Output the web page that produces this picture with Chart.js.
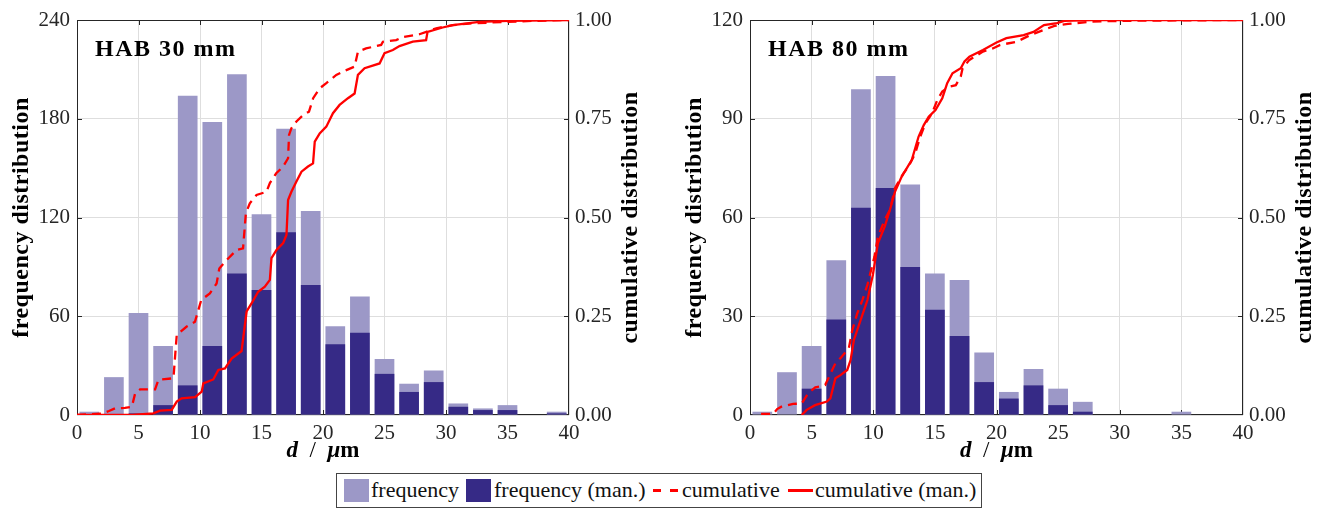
<!DOCTYPE html>
<html><head><meta charset="utf-8">
<script src="https://cdn.jsdelivr.net/npm/chart.js@4.4.1/dist/chart.umd.min.js"></script>
<style>
html,body{margin:0;padding:0;background:#fff;}
#wrap{position:relative;width:1320px;height:510px;overflow:hidden;background:#fff;}
#wrap canvas{position:absolute;top:0;}
#legend{position:absolute;left:336px;top:473px;width:646px;height:35px;border:1px solid #444;box-sizing:border-box;font:22px "Liberation Serif",serif;color:#111;background:#fff;}
#legend .sw{position:absolute;top:5px;width:25px;height:23px;}
#legend .tx{position:absolute;top:1px;line-height:30px;white-space:nowrap;}
#legend .ln{position:absolute;top:15px;height:3px;background:#ff0000;}
</style></head>
<body>
<div id="wrap">
  <canvas id="c30" width="660" height="470" style="left:0;width:660px;height:470px"></canvas>
  <canvas id="c80" width="660" height="470" style="left:660px;width:660px;height:470px"></canvas>
  <div id="legend">
    <div class="sw" style="left:7px;background:#9c98c7"></div><div class="tx" style="left:34px">frequency</div>
    <div class="sw" style="left:129px;background:#362a86"></div><div class="tx" style="left:157px">frequency (man.)</div>
    <div class="ln" style="left:316px;width:8px"></div><div class="ln" style="left:333px;width:8px"></div><div class="tx" style="left:345px">cumulative</div>
    <div class="ln" style="left:451px;width:25px"></div><div class="tx" style="left:478px">cumulative (man.)</div>
  </div>
</div>
<script>
// ---- data ----
const binCenters = [1,3,5,7,9,11,13,15,17,19,21,23,25,27,29,31,33,35,37,39];
const xTicks = [0,5,10,15,20,25,30,35,40];
const yTicks30 = [0,60,120,180,240];
const yTicks80 = [0,30,60,90,120];
const cumTicks = [0,0.25,0.5,0.75,1];

const freq30    = [2,23,62,42,194,178,207,122,174,124,54,72,34,19,27,7,4,6,0,2];
const freqMan30 = [0,0,1,6,18,42,86,76,111,79,43,50,25,14,20,5,3,3,0,1];
const freq80    = [1,13,21,47,99,103,70,43,41,19,7,14,8,4,0,0,0,1,0,0];
const freqMan80 = [0,0,8,29,63,69,45,32,24,10,5,9,3,1,0,0,0,0,0,0];

const cum30X = [0,2.1,2.6,3.1,3.9,4.46,4.73,5.13,6.35,6.62,7.84,8.11,8.92,9.59,10.1,10.8,11.35,11.57,12.16,12.98,13.5,13.73,14.05,14.6,15.4,15.68,16.2,16.76,17.16,17.24,17.43,17.84,18.38,18.86,19.2,19.73,20.27,21.08,21.9,22.57,22.84,23.5,24.73,24.87,25.95,26.5,27.84,28.4,29.2,30.55,31.9,34.6,37.3,40];
const cum30Y = [0,0.004,0.01,0.017,0.018,0.021,0.055,0.065,0.065,0.089,0.093,0.203,0.224,0.236,0.291,0.308,0.333,0.371,0.392,0.418,0.422,0.511,0.536,0.557,0.565,0.587,0.612,0.629,0.65,0.709,0.726,0.743,0.759,0.768,0.802,0.827,0.84,0.861,0.873,0.882,0.92,0.928,0.937,0.945,0.949,0.957,0.964,0.97,0.979,0.987,0.991,0.995,0.998,1];
const cumMan30X = [0,4.5,6.2,6.76,7.7,8.11,8.5,9.6,10.14,10.27,11.08,11.49,12.03,12.57,13.38,13.79,14.2,14.73,15.27,15.68,15.81,16.22,16.76,17.03,17.16,17.43,17.84,18.25,18.78,19.19,19.33,19.73,20.27,20.81,21.35,22.03,22.57,22.84,23.38,24.6,25.0,25.68,26.22,27.3,28.38,28.5,29.73,30.55,32.7,35.1,40];
const cumMan30Y = [0,0,0.004,0.011,0.013,0.034,0.042,0.045,0.059,0.08,0.09,0.114,0.118,0.143,0.162,0.262,0.283,0.312,0.325,0.342,0.397,0.418,0.435,0.456,0.544,0.565,0.591,0.616,0.629,0.637,0.692,0.713,0.73,0.764,0.785,0.802,0.814,0.861,0.878,0.89,0.916,0.924,0.934,0.945,0.949,0.97,0.981,0.987,0.995,0.998,1];

const cum80X = [0.9,1.9,2.2,2.55,3.5,4.19,4.73,5.3,5.69,6.1,6.93,7.34,8.02,8.3,8.7,9.12,9.53,10.1,10.38,10.93,11.35,11.76,12.45,12.86,13.4,13.82,14.23,14.78,15.19,15.6,16.15,16.7,17.1,17.25,17.8,18.9,19.7,20.3,21.65,22.75,23.85,24.7,25.8,27.7,30.4,40];
const cum80Y = [0.003,0.003,0.015,0.021,0.028,0.029,0.055,0.07,0.072,0.076,0.131,0.144,0.169,0.215,0.257,0.291,0.33,0.401,0.451,0.494,0.519,0.574,0.612,0.629,0.662,0.705,0.738,0.764,0.797,0.819,0.831,0.835,0.857,0.878,0.899,0.92,0.928,0.937,0.945,0.962,0.975,0.985,0.99,0.996,0.998,1];
const cumMan80X = [4.19,4.6,5.28,6.24,6.52,6.93,7.34,7.89,8.16,8.43,8.98,9.53,9.97,10.38,10.93,11.35,11.76,12.3,13.13,13.68,14.1,14.5,15.05,15.6,16.0,16.43,17.1,17.4,17.8,18.9,20.0,20.8,22.2,23.0,23.85,24.9,25.5,27.7,40];
const cumMan80Y = [0,0.013,0.025,0.034,0.042,0.093,0.101,0.114,0.139,0.19,0.241,0.291,0.355,0.435,0.477,0.519,0.565,0.603,0.646,0.705,0.734,0.755,0.772,0.802,0.84,0.865,0.878,0.895,0.907,0.924,0.943,0.954,0.962,0.97,0.987,0.992,0.998,1,1];

// ---- style ----
const LIGHT = '#9c98c7', DARK = '#362a86', RED = '#ff0000', GRID = '#dedede', TXT = '#262626';
const FAM = '"Liberation Serif","Times New Roman",serif';
Chart.defaults.font.family = FAM;

const decor = {
  id: 'decor',
  beforeDatasetsDraw(chart) {
    const {ctx, chartArea: a, scales} = chart;
    ctx.save();
    ctx.strokeStyle = TXT; ctx.lineWidth = 1;
    ctx.strokeRect(a.left + 0.5, a.top + 0.5, a.right - a.left - 1, a.bottom - a.top - 1);
    ctx.beginPath();
    scales.x.ticks.forEach(t => {
      if (t.value <= 0 || t.value >= 40) return;
      const px = Math.round(scales.x.getPixelForValue(t.value)) + 0.5;
      ctx.moveTo(px, a.bottom); ctx.lineTo(px, a.bottom - 5);
      ctx.moveTo(px, a.top); ctx.lineTo(px, a.top + 5);
    });
    scales.y.ticks.forEach(t => {
      const py = Math.round(scales.y.getPixelForValue(t.value)) + 0.5;
      if (py <= a.top + 1 || py >= a.bottom - 1) return;
      ctx.moveTo(a.left, py); ctx.lineTo(a.left + 5, py);
    });
    scales.y1.ticks.forEach(t => {
      const py = Math.round(scales.y1.getPixelForValue(t.value)) + 0.5;
      if (py <= a.top + 1 || py >= a.bottom - 1) return;
      ctx.moveTo(a.right, py); ctx.lineTo(a.right - 5, py);
    });
    ctx.stroke();
    ctx.restore();
  },
  afterDraw(chart, args, opts) {
    const {ctx, chartArea: a} = chart;
    ctx.save();
    ctx.fillStyle = '#000';
    // panel label
    ctx.font = 'bold 24px ' + FAM;
    if ('letterSpacing' in ctx) ctx.letterSpacing = '1.5px';
    ctx.textAlign = 'left'; ctx.textBaseline = 'alphabetic';
    ctx.fillText(opts.label, a.left + 18, a.top + 36);
    // y titles
    if ('letterSpacing' in ctx) ctx.letterSpacing = '0.5px';
    ctx.textAlign = 'center'; ctx.textBaseline = 'middle';
    const cy = (a.top + a.bottom) / 2;
    [[opts.yTitle, a.left - 55], [opts.y1Title, a.right + 62]].forEach(([txt, x]) => {
      ctx.save(); ctx.translate(x, cy); ctx.rotate(-Math.PI / 2);
      ctx.fillText(txt, 0, 0); ctx.restore();
    });
    // x title: d / μm
    if ('letterSpacing' in ctx) ctx.letterSpacing = '0px';
    ctx.textBaseline = 'alphabetic'; ctx.textAlign = 'left';
    const parts = [['d', 'italic bold 23px '], ['\u2002/\u2002', '23px '], ['μ', 'italic bold 23px '], ['m', 'bold 23px ']];
    let w = 0;
    parts.forEach(p => { ctx.font = p[1] + FAM; w += ctx.measureText(p[0]).width; });
    let x = (a.left + a.right) / 2 - w / 2;
    parts.forEach(p => { ctx.font = p[1] + FAM; ctx.fillText(p[0], x, 457); x += ctx.measureText(p[0]).width; });
    ctx.restore();
  }
};

function makeChart(id, cfg) {
  const bars = vals => binCenters.map((c, i) => ({x: c, y: vals[i]}));
  const pts = (xs, ys) => xs.map((x, i) => ({x: x, y: ys[i]}));
  const tickFont = {family: FAM, size: 21};
  return new Chart(document.getElementById(id).getContext('2d'), {
    type: 'bar',
    data: {datasets: [
      {type: 'line', label: 'cumulative (man.)', data: pts(cfg.cumManX, cfg.cumManY), yAxisID: 'y1',
       borderColor: RED, borderWidth: 2.3, pointRadius: 0, tension: 0, order: 0},
      {type: 'line', label: 'cumulative', data: pts(cfg.cumX, cfg.cumY), yAxisID: 'y1',
       borderColor: RED, borderWidth: 2.3, borderDash: [9, 6], pointRadius: 0, tension: 0, order: 1},
      {label: 'frequency (man.)', data: bars(cfg.freqMan), yAxisID: 'y', backgroundColor: DARK,
       grouped: false, categoryPercentage: 0.8, barPercentage: 1, order: 2},
      {label: 'frequency', data: bars(cfg.freq), yAxisID: 'y', backgroundColor: LIGHT,
       grouped: false, categoryPercentage: 0.8, barPercentage: 1, order: 3}
    ]},
    options: {
      responsive: false, animation: false, devicePixelRatio: 1,
      layout: {padding: {top: 20, left: 0, right: 0, bottom: 0}},
      plugins: {legend: {display: false}, tooltip: {enabled: false},
        decor: {label: cfg.label, yTitle: 'frequency distribution', y1Title: 'cumulative distribution'}},
      scales: {
        x: {type: 'linear', min: 0, max: 40, offset: false,
          grid: {offset: false, color: GRID, drawTicks: false}, border: {display: false},
          afterBuildTicks: s => { s.ticks = xTicks.map(v => ({value: v})); },
          ticks: {padding: 6, color: TXT, font: tickFont, maxRotation: 0, autoSkip: false},
          afterFit: s => { s.height = 55; }},
        y: {position: 'left', min: 0, max: cfg.yTicks[cfg.yTicks.length - 1],
          grid: {color: GRID, drawTicks: false}, border: {display: false},
          afterBuildTicks: s => { s.ticks = cfg.yTicks.map(v => ({value: v})); },
          ticks: {padding: 7, color: TXT, font: tickFont},
          afterFit: s => { s.width = cfg.left; }},
        y1: {position: 'right', min: 0, max: 1,
          grid: {display: false, drawTicks: false}, border: {display: false},
          afterBuildTicks: s => { s.ticks = cumTicks.map(v => ({value: v})); },
          ticks: {padding: 6, color: TXT, font: tickFont, callback: v => Number(v).toFixed(2)},
          afterFit: s => { s.width = 660 - cfg.right; }}
      }
    },
    plugins: [decor]
  });
}

makeChart('c30', {label: 'HAB 30 mm', freq: freq30, freqMan: freqMan30, cumX: cum30X, cumY: cum30Y,
  cumManX: cumMan30X, cumManY: cumMan30Y, yTicks: yTicks30, left: 77, right: 569});
makeChart('c80', {label: 'HAB 80 mm', freq: freq80, freqMan: freqMan80, cumX: cum80X, cumY: cum80Y,
  cumManX: cumMan80X, cumManY: cumMan80Y, yTicks: yTicks80, left: 90, right: 583});
</script>
</body></html>
